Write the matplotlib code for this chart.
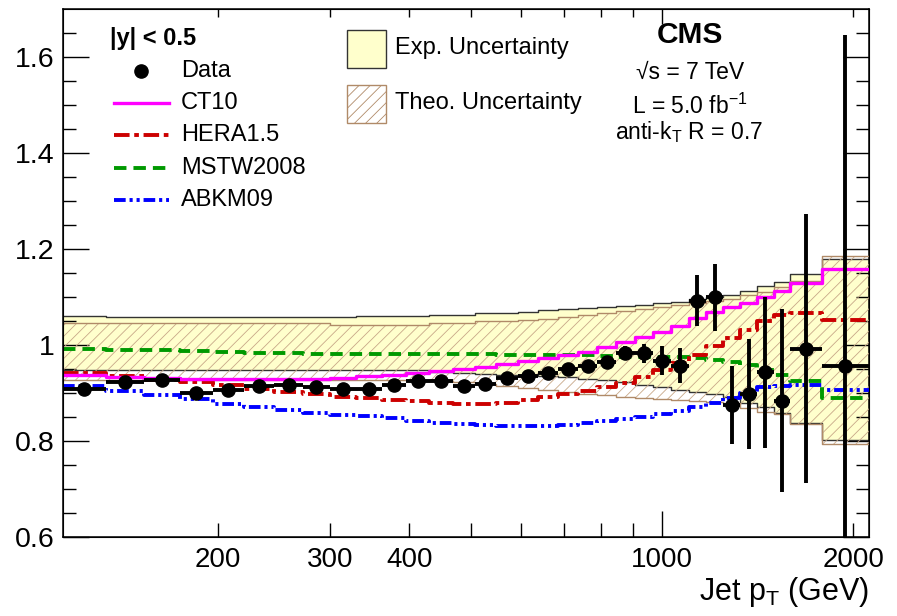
import numpy as np
import matplotlib
matplotlib.use('Agg')
import matplotlib.pyplot as plt
from matplotlib.lines import Line2D
from matplotlib.patches import Rectangle
from matplotlib.ticker import FixedLocator, FixedFormatter, FuncFormatter, NullFormatter

plt.rcParams['font.family'] = ['Liberation Sans', 'DejaVu Sans']
plt.rcParams['mathtext.fontset'] = 'custom'
plt.rcParams['mathtext.rm'] = 'Liberation Sans'
plt.rcParams['mathtext.it'] = 'Liberation Sans:italic'
plt.rcParams['mathtext.bf'] = 'Liberation Sans:bold'
plt.rcParams['hatch.linewidth'] = 0.6

# jet pT bin edges (GeV), |y| < 0.5
edges = [114, 133, 153, 174, 196, 220, 245, 272, 300, 330, 362, 395, 430, 468, 507,
         548, 592, 638, 686, 737, 790, 846, 905, 967, 1032, 1101, 1172, 1248, 1327,
         1410, 1497, 1588, 1784, 2116]

# ratio values read per bin
data = [0.908, 0.922, 0.927, 0.901, 0.906, 0.915, 0.917, 0.912, 0.908, 0.908, 0.917,
        0.925, 0.926, 0.915, 0.918, 0.932, 0.935, 0.942, 0.951, 0.956, 0.965, 0.983,
        0.983, 0.967, 0.957, 1.092, 1.099, 0.875, 0.898, 0.943, 0.884, 0.992, 0.956]
data_err = [0.004, 0.004, 0.004, 0.004, 0.004, 0.004, 0.004, 0.004, 0.004, 0.004, 0.005,
            0.005, 0.005, 0.006, 0.006, 0.007, 0.008, 0.009, 0.010, 0.011, 0.013, 0.015,
            0.020, 0.030, 0.036, 0.053, 0.070, 0.082, 0.115, 0.158, 0.190, 0.280, 0.690]

ct10 = [0.937, 0.933, 0.931, 0.930, 0.930, 0.929, 0.929, 0.930, 0.932, 0.935, 0.938,
        0.942, 0.946, 0.950, 0.955, 0.960, 0.967, 0.972, 0.980, 0.986, 0.995, 1.007,
        1.017, 1.027, 1.040, 1.056, 1.069, 1.080, 1.087, 1.099, 1.113, 1.130, 1.158]
hera = [0.942, 0.935, 0.928, 0.922, 0.917, 0.909, 0.903, 0.897, 0.892, 0.889, 0.886,
        0.884, 0.880, 0.878, 0.878, 0.880, 0.886, 0.891, 0.897, 0.904, 0.912, 0.921,
        0.934, 0.948, 0.962, 0.979, 0.998, 1.015, 1.031, 1.050, 1.062, 1.067, 1.052]
mstw = [0.991, 0.990, 0.989, 0.987, 0.985, 0.984, 0.983, 0.982, 0.982, 0.981, 0.981,
        0.981, 0.981, 0.981, 0.981, 0.980, 0.980, 0.980, 0.980, 0.979, 0.977, 0.976,
        0.976, 0.975, 0.974, 0.972, 0.969, 0.964, 0.958, 0.948, 0.937, 0.925, 0.890]
abkm = [0.915, 0.905, 0.896, 0.887, 0.878, 0.871, 0.865, 0.859, 0.855, 0.852, 0.848,
        0.842, 0.838, 0.835, 0.833, 0.831, 0.831, 0.832, 0.834, 0.837, 0.841, 0.846,
        0.851, 0.856, 0.862, 0.870, 0.880, 0.890, 0.899, 0.912, 0.915, 0.916, 0.906]

exp_hi = [1.060, 1.058, 1.058, 1.058, 1.058, 1.058, 1.058, 1.058, 1.058, 1.060, 1.060,
          1.060, 1.0625, 1.0625, 1.066, 1.066, 1.069, 1.072, 1.075, 1.078, 1.080, 1.082,
          1.084, 1.087, 1.090, 1.095, 1.100, 1.104, 1.112, 1.123, 1.132, 1.147, 1.180]
exp_lo = [0.947, 0.947, 0.947, 0.947, 0.947, 0.947, 0.947, 0.947, 0.947, 0.947, 0.947,
          0.947, 0.944, 0.941, 0.939, 0.938, 0.937, 0.935, 0.933, 0.930, 0.927, 0.922,
          0.917, 0.912, 0.907, 0.902, 0.897, 0.892, 0.879, 0.871, 0.858, 0.838, 0.802]
theo_hi = [1.045, 1.045, 1.045, 1.045, 1.045, 1.045, 1.045, 1.045, 1.042, 1.042, 1.042,
           1.042, 1.045, 1.045, 1.049, 1.049, 1.052, 1.055, 1.059, 1.063, 1.067, 1.071,
           1.075, 1.079, 1.083, 1.087, 1.091, 1.096, 1.104, 1.111, 1.120, 1.134, 1.185]
theo_lo = [0.928, 0.928, 0.928, 0.928, 0.928, 0.928, 0.928, 0.928, 0.928, 0.928, 0.928,
           0.928, 0.925, 0.922, 0.918, 0.914, 0.910, 0.906, 0.902, 0.898, 0.895, 0.892,
           0.890, 0.888, 0.886, 0.884, 0.882, 0.879, 0.868, 0.861, 0.856, 0.836, 0.794]

W, H = 897, 616
fig = plt.figure(figsize=(W / 100, H / 100), dpi=100)
ax = fig.add_axes([63 / W, 1 - 537 / H, (869 - 63) / W, (537 - 9) / H])

xe = np.array(edges, dtype=float)
xc = np.sqrt(xe[:-1] * xe[1:])


def st(v):
    return np.append(v, v[-1])


# uncertainty bands
ax.fill_between(xe, st(exp_lo), st(exp_hi), step='post', facecolor='#ffffcc',
                edgecolor='none', lw=0, zorder=1)
ax.step(xe, st(exp_hi), where='post', color='#333333', lw=1, zorder=2)
ax.step(xe, st(exp_lo), where='post', color='#333333', lw=1, zorder=2)
ax.fill_between(xe, st(theo_lo), st(theo_hi), step='post', facecolor='none',
                edgecolor='#c8a888', hatch='///', lw=0, zorder=3)
ax.step(xe, st(theo_hi), where='post', color='#b08a68', lw=1, zorder=3)
ax.step(xe, st(theo_lo), where='post', color='#b08a68', lw=1, zorder=3)

# PDF predictions
sty = {
    'CT10': dict(color='#ff00ff', lw=2.4, ls='-'),
    'HERA1.5': dict(color='#cc0000', lw=2.8, ls=(0, (4, 1.2, 1.2, 1.2))),
    'MSTW2008': dict(color='#009900', lw=2.8, ls=(0, (3.2, 1.8))),
    'ABKM09': dict(color='#0000ff', lw=2.8, ls=(0, (3, 1, 0.8, 1, 0.8, 1))),
}
for name, vals in [('ABKM09', abkm), ('MSTW2008', mstw), ('HERA1.5', hera), ('CT10', ct10)]:
    ax.step(xe, st(vals), where='post', zorder=5, **sty[name])

ax.errorbar(xc, data, yerr=data_err, xerr=[xc - xe[:-1], xe[1:] - xc], fmt='o',
            color='black', ms=9.5, elinewidth=2.8, capsize=0, zorder=10)

ax.set_xscale('log')
ax.set_xlim(114, 2116)
ax.set_ylim(0.6, 1.70)

lab_x = {200: '200', 300: '300', 400: '400', 2000: '2000'}
ax.xaxis.set_major_locator(FixedLocator([1000]))
ax.xaxis.set_major_formatter(FixedFormatter(['1000']))
ax.xaxis.set_minor_locator(FixedLocator([200, 300, 400, 500, 600, 700, 800, 900, 2000]))
ax.xaxis.set_minor_formatter(FuncFormatter(lambda v, p: lab_x.get(int(round(v)), '')))
ax.tick_params(axis='x', which='major', direction='in', length=19, width=1,
               labelsize=20, pad=7, top=False)
ax.tick_params(axis='x', which='minor', direction='in', length=10, width=1,
               labelsize=20, pad=7, top=False)

ax.yaxis.set_major_locator(FixedLocator([0.6, 0.8, 1.0, 1.2, 1.4, 1.6]))
ax.yaxis.set_major_formatter(FixedFormatter(['0.6', '0.8', '1', '1.2', '1.4', '1.6']))
ax.yaxis.set_minor_locator(FixedLocator(np.arange(0.65, 1.70, 0.05)))
ax.tick_params(axis='y', which='major', direction='in', length=19, width=1,
               labelsize=20.5, pad=6, right=True)
ax.tick_params(axis='y', which='minor', direction='in', length=9.5, width=1, right=True)
for s in ax.spines.values():
    s.set_linewidth(1.1)

# top axis ticks (shorter, no labels)
axt = ax.twiny()
axt.set_xscale('log')
axt.set_xlim(114, 2116)
axt.xaxis.set_major_locator(FixedLocator([1000]))
axt.xaxis.set_minor_locator(FixedLocator([200, 300, 400, 500, 600, 700, 800, 900, 2000]))
axt.xaxis.set_major_formatter(NullFormatter())
axt.xaxis.set_minor_formatter(NullFormatter())
axt.tick_params(axis='x', which='major', direction='in', length=11, width=1)
axt.tick_params(axis='x', which='minor', direction='in', length=6, width=1)

fig.text(869 / W, 1 - 600 / H, 'Jet p$_\\mathregular{T}$ (GeV)', ha='right', va='baseline',
         fontsize=22)


def fx(x):
    return x / W


def fy(y):
    return 1 - y / H


# legend (left)
fig.text(fx(110), fy(38), '|y| < 0.5', fontsize=17, fontweight='bold', va='center')
fig.add_artist(Line2D([fx(141)], [fy(71)], marker='o', ms=9.5, color='black', ls='none'))
fig.text(fx(181), fy(71), 'Data', fontsize=17, va='center')
for i, name in enumerate(['CT10', 'HERA1.5', 'MSTW2008', 'ABKM09']):
    yy = 103 + 32.3 * i
    fig.add_artist(Line2D([fx(114), fx(169)], [fy(yy), fy(yy)], **sty[name]))
    fig.text(fx(181), fy(yy), name, fontsize=17, va='center')

# legend (bands)
fig.add_artist(Rectangle((fx(347), fy(68)), fx(386) - fx(347), fy(30) - fy(68),
                         transform=fig.transFigure, facecolor='#ffffcc',
                         edgecolor='#333333', lw=1))
fig.text(fx(395), fy(48), 'Exp. Uncertainty', fontsize=17, va='center')
fig.add_artist(Rectangle((fx(347), fy(123)), fx(386) - fx(347), fy(85) - fy(123),
                         transform=fig.transFigure, facecolor='none',
                         edgecolor='#b08a68', hatch='///', lw=1))
fig.text(fx(395), fy(103), 'Theo. Uncertainty', fontsize=17, va='center')

# CMS labels
fig.text(fx(690), fy(35), 'CMS', fontsize=21.5, fontweight='bold', ha='center', va='center')
fig.text(fx(690), fy(72), '\u221as = 7 TeV', fontsize=16.5, ha='center', va='center')
fig.text(fx(690), fy(106), 'L = 5.0 fb$^{\\mathregular{-1}}$', fontsize=16.5,
         ha='center', va='center')
fig.text(fx(689), fy(132), 'anti-k$_\\mathregular{T}$ R = 0.7', fontsize=16.5,
         ha='center', va='center')

fig.savefig('out.png', dpi=100)
